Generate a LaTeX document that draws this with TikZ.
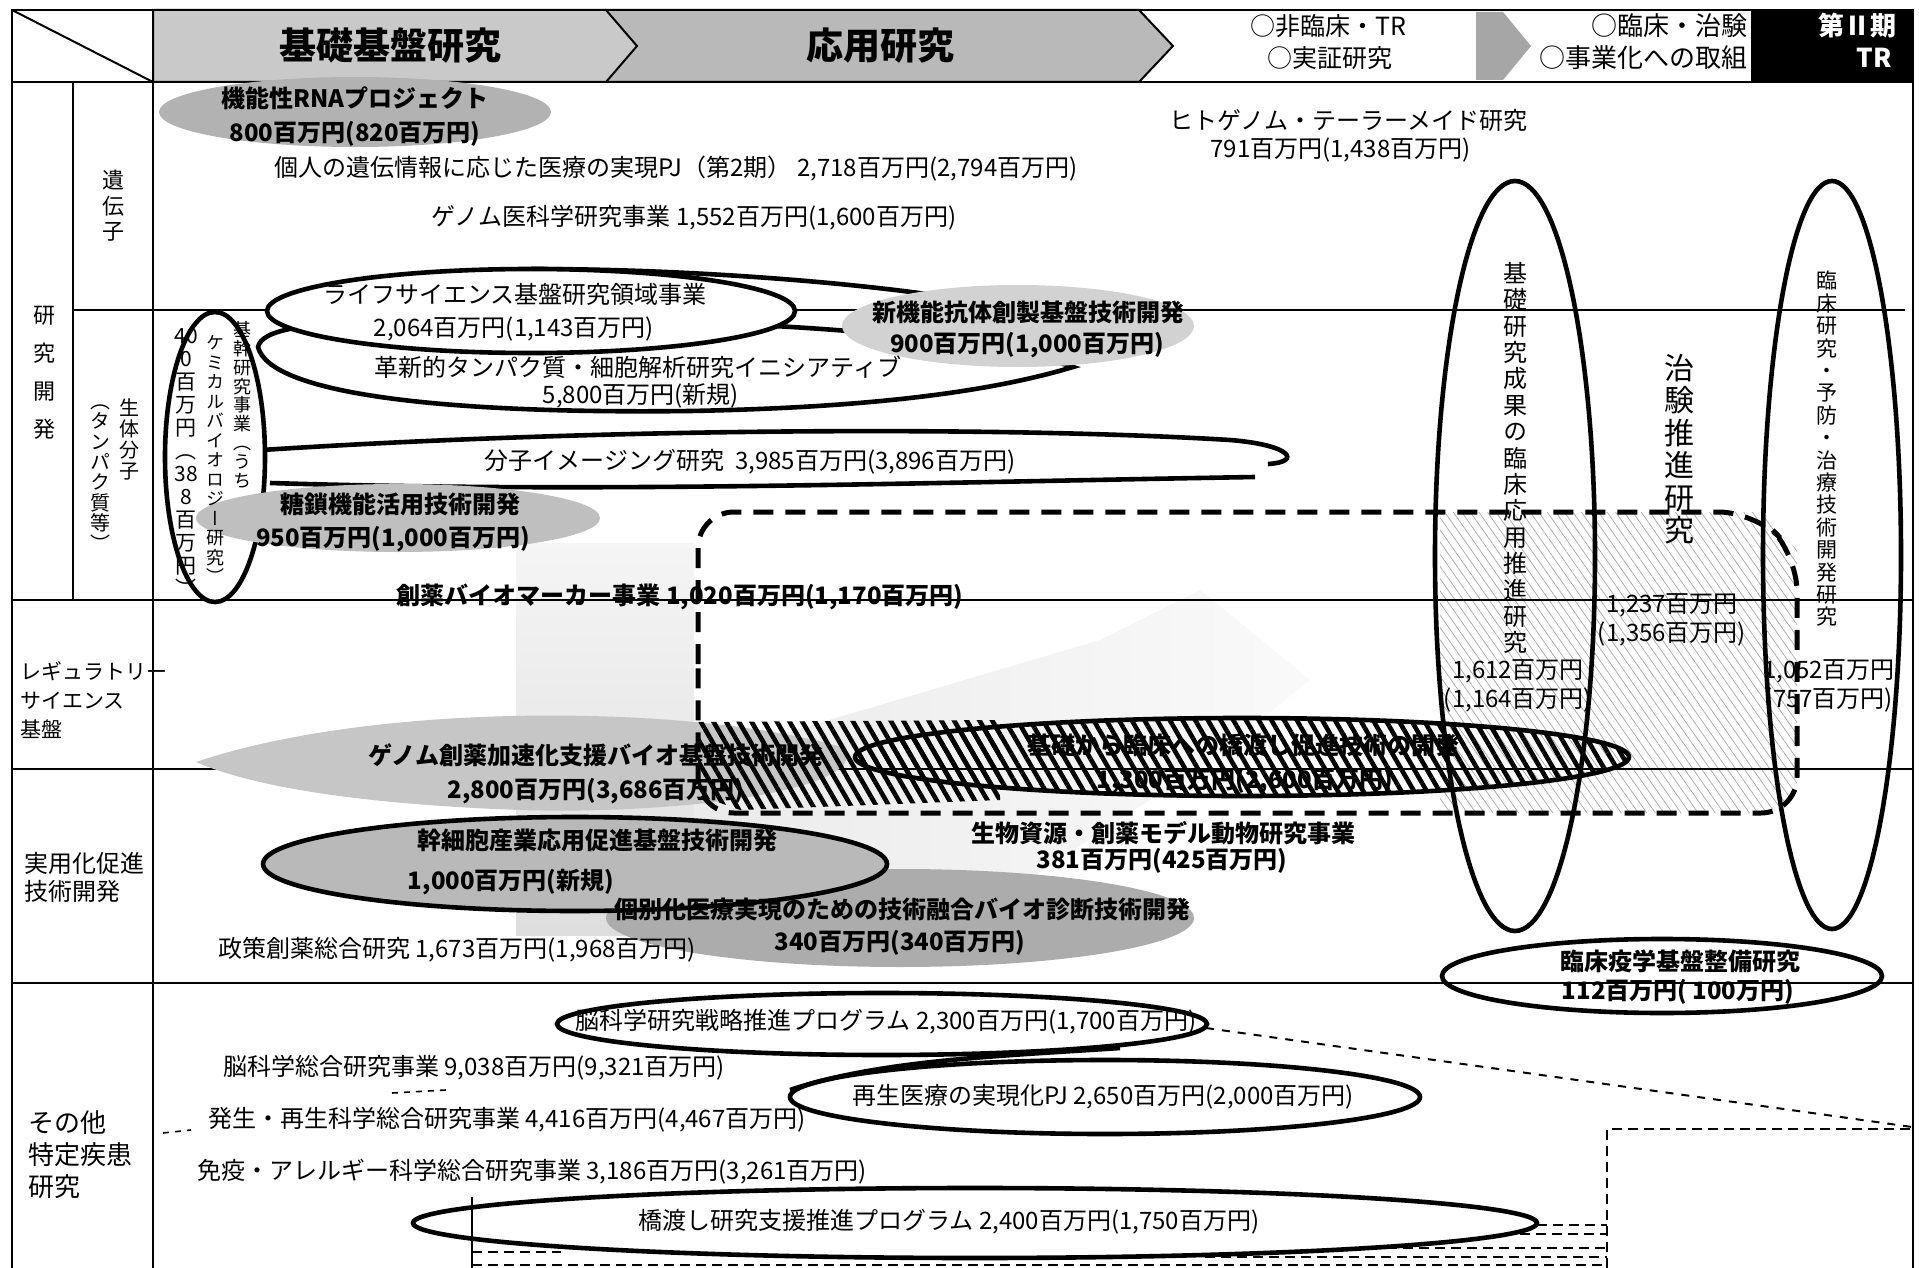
\documentclass[tikz,border=0pt]{standalone}
\usepackage{fontspec}
\setmainfont{Noto Sans CJK JP}
\newfontfamily\vjp{Noto Sans CJK JP}[RawFeature=+vert]
\usetikzlibrary{patterns.meta}
\makeatletter
\newcommand\vstk[2]{\vbox{\offinterlineskip\@tfor\vch:=#2\do{\hbox to 1.2em{\hss\vrule height \dimexpr #1/2 + .38em\relax depth \dimexpr #1/2 - .38em\relax width 0pt\smash{\vch}\hss}}}}
\makeatother
\tikzset{
  t/.style={inner sep=0pt, font=\fontsize{12}{14}\selectfont},
  tb/.style={inner sep=0pt, font=\bfseries\fontsize{12}{14}\selectfont},
  vt/.style={inner sep=0pt},
  gridln/.style={line width=1pt},
  ell/.style={line width=2.3pt},
  bigdash/.style={line width=2.5pt, dash pattern=on 10pt off 6pt},
  thindash/.style={line width=1pt, dash pattern=on 4pt off 4pt},
  dashtwo/.style={line width=1.3pt, dash pattern=on 5pt off 3pt},
  hatch/.style={pattern={Lines[angle=-60,distance=5.5pt,line width=2.3pt]}},
  lighthatch/.style={pattern={Lines[angle=-55,distance=3.5pt,line width=.35pt]}, pattern color=gray!70},
}
\begin{document}
\begin{tikzpicture}[x=0.5pt,y=-0.5pt]
\useasboundingbox (0,0) rectangle (1919,1268);
\fill[white] (0,0) rectangle (1919,1268);

% background stipple (approximated by light grey)
\shade[top color=gray!8, bottom color=gray!26] (516,543) rectangle (694,935);
\shade[left color=gray!16, right color=gray!4] (694,940) -- (694,760) -- (1100,640) -- (1200,590) -- (1310,680) -- (1210,760) -- (930,945) -- cycle;
\fill[lighthatch] (1440,512) -- (1760,512) -- (1797,550) -- (1797,790) -- (1770,813) -- (1440,813) -- cycle;

% header
\filldraw[fill=gray!55, line width=1pt] (606,10) -- (1139,10) -- (1173,46) -- (1139,82) -- (606,82) -- cycle;
\filldraw[fill=gray!42, line width=1pt] (153,10) -- (606,10) -- (637,46) -- (606,82) -- (153,82) -- cycle;
\fill[gray!70] (1476,12) -- (1503,12) -- (1531,46) -- (1503,80) -- (1476,80) -- cycle;
\fill[black] (1751,10) rectangle (1913,82);

% frame and grid
\draw[gridln] (12,1268) -- (12,10) -- (1913,10) -- (1913,1268);
\draw[gridln] (12,82) -- (1913,82);
\draw[gridln] (12,10) -- (153,82);
\draw[gridln] (153,10) -- (153,1268);
\draw[gridln] (73,82) -- (73,600);
\draw[gridln] (73,310) -- (1905,310);
\draw[gridln] (12,600) -- (1913,600);
\draw[gridln] (12,769) -- (1913,769);
\draw[gridln] (12,983) -- (1913,983);

% shapes: gene / biomolecule rows
\fill[gray!60] (355,112) ellipse [x radius=98pt, y radius=17.5pt];
\filldraw[ell, fill=white] (258,347) .. controls (262,330) and (300,322) .. (420,320) .. controls (700,316) and (960,330) .. (1073,367) .. controls (980,395) and (850,408) .. (690,411) .. controls (450,414) and (270,395) .. (258,347) -- cycle;
\draw[ell] (531,269) .. controls (700,269) and (860,284) .. (940,296);
\filldraw[ell, fill=white] (531,311) ellipse [x radius=132pt, y radius=21pt];
\fill[gray!35] (1018,326) ellipse [x radius=88pt, y radius=20.5pt];
\draw[ell] (262,450) .. controls (600,428) and (1000,426) .. (1230,440) .. controls (1292,445) and (1302,462) .. (1268,464);
\draw[ell] (1255,477) .. controls (900,483) and (600,493) .. (270,483);
\filldraw[ell, fill=white] (215,457) ellipse [x radius=25pt, y radius=72.5pt];
\fill[gray!50] (398,518) ellipse [x radius=101pt, y radius=17pt];

% regulatory / practical rows
\fill[gray!45] (196,762) .. controls (380,700) and (700,705) .. (845,748) .. controls (870,790) and (680,815) .. (520,810) .. controls (380,805) and (260,790) .. (196,762) -- cycle;
\fill[hatch] (698,722) -- (1000,720) -- (1000,800) -- (740,810) -- (698,795) -- cycle;
\draw[ell, hatch] (1242,757) ellipse [x radius=193.5pt, y radius=19.5pt];
\fill[gray!65] (900,918) ellipse [x radius=147pt, y radius=24.5pt];
\filldraw[ell, fill=gray!55] (575,864) ellipse [x radius=156pt, y radius=23.5pt];
\draw[ell] (1515,556) ellipse [x radius=40pt, y radius=187.5pt];
\draw[ell] (1832,555) ellipse [x radius=34.5pt, y radius=187pt];
\draw[ell] (1662,976) ellipse [x radius=110pt, y radius=18.5pt];
\draw[bigdash, rounded corners=18pt] (698,700) |- (1755,512) -- (1797,555) |- (698,813) -- cycle;

% other disease rows
\draw[ell] (882,1024) ellipse [x radius=162.5pt, y radius=15.5pt];
\draw[ell] (1120,1048) .. controls (1000,1056) and (880,1060) .. (790,1090);
\draw[ell] (1105,1097) ellipse [x radius=157.5pt, y radius=18.5pt];
\draw[ell] (975,1223) ellipse [x radius=281pt, y radius=17.5pt];
\coordinate (nouR) at (1206,1028);
\coordinate (farR) at (1912,1127);
\draw[thindash] (nouR) -- (farR);
\draw[dashtwo] (1607,1268) -- (1607,1129) -- (1913,1129);
\draw[dashtwo] (1537,1225) -- (1607,1225);
\draw[dashtwo] (1520,1234) -- (1607,1234);
\draw[dashtwo] (1387,1248) -- (1607,1248);
\draw[dashtwo] (1205,1257) -- (1607,1257);
\draw[dashtwo] (472,1265) -- (1607,1265);
\draw[dashtwo] (472,1252) -- (561,1252);
\draw[line width=.6pt] (472,1197) -- (472,1268);
\draw[line width=.8pt, dash pattern=on 3pt off 3pt] (392,1093) -- (446,1090);
\draw[line width=.8pt, dash pattern=on 3pt off 3pt] (163,1133) -- (191,1130);

% header texts
\node[inner sep=0pt, font=\bfseries\fontsize{18.5}{20}\selectfont] (hkiso) at (390,46) {基礎基盤研究};
\node[inner sep=0pt, font=\bfseries\fontsize{18.5}{20}\selectfont] (houyou) at (880,46) {応用研究};
\node[inner sep=0pt, font=\fontsize{12.5}{14}\selectfont] (hhi1) at (1328,26) {○非臨床・TR};
\node[inner sep=0pt, font=\fontsize{12.5}{14}\selectfont] (hhi2) at (1330,58) {○実証研究};
\node[inner sep=0pt, anchor=east, font=\fontsize{13}{14}\selectfont] (hrin1) at (1748,26) {○臨床・治験};
\node[inner sep=0pt, anchor=east, font=\fontsize{13}{14}\selectfont] (hrin2) at (1748,58) {○事業化への取組};
\node[inner sep=0pt, text=white, font=\bfseries\fontsize{13}{14}\selectfont] (hdai) at (1857,26) {第Ⅱ期};
\node[inner sep=0pt, text=white, font=\bfseries\fontsize{13}{14}\selectfont] (htr) at (1874,58) {TR};

% left labels
\node[vt, font=\vjp\fontsize{11}{11}\selectfont] (lken) at (44,372) {\vstk{19pt}{研究開発}};
\node[vt, font=\vjp\fontsize{11}{11}\selectfont] (liden) at (113,206) {\vstk{12.75pt}{遺伝子}};
\node[vt, font=\vjp\fontsize{10}{10}\selectfont] (lsei) at (130,439) {\vstk{10.5pt}{生体分子}};
\node[vt, font=\vjp\fontsize{10}{10}\selectfont] (ltan) at (101,472) {\vstk{10.2pt}{（タンパク質等）}};
\node[inner sep=0pt, anchor=west, align=left, font=\fontsize{10.5}{14.5}\selectfont] (lregu) at (20,700) {レギュラトリー\\サイエンス\\基盤};
\node[inner sep=0pt, anchor=west, align=left, font=\fontsize{12}{14}\selectfont] (ljitsu) at (24,877) {実用化促進\\技術開発};
\node[inner sep=0pt, anchor=west, align=left, font=\fontsize{13}{16}\selectfont] (lsono) at (28,1155) {その他\\特定疾患\\研究};

% gene row texts
\node[tb] (rna1) at (355,98) {機能性RNAプロジェクト};
\node[tb] (rna2) at (355,134) {800百万円(820百万円)};
\node[t] (kojin) at (676,169) {個人の遺伝情報に応じた医療の実現PJ（第2期） 2,718百万円(2,794百万円)};
\node[t] (genome) at (694,218) {ゲノム医科学研究事業 1,552百万円(1,600百万円)};
\node[t, anchor=west] (hito1) at (1169,120) {ヒトゲノム・テーラーメイド研究};
\node[t, anchor=west] (hito2) at (1210,150) {791百万円(1,438百万円)};

% biomolecule row texts
\node[t] (life1) at (515,294) {ライフサイエンス基盤研究領域事業};
\node[t] (life2) at (514,329) {2,064百万円(1,143百万円)};
\node[t] (kaku1) at (638,367) {革新的タンパク質・細胞解析研究イニシアティブ};
\node[t] (kaku2) at (641,396) {5,800百万円(新規)};
\node[tb] (shin1) at (1028,312) {新機能抗体創製基盤技術開発};
\node[tb] (shin2) at (1027,345) {900百万円(1,000百万円)};
\node[t] (bunshi) at (750,462) {分子イメージング研究\ \ 3,985百万円(3,896百万円)};
\node[tb] (tousa1) at (400,504) {糖鎖機能活用技術開発};
\node[tb] (tousa2) at (393,539) {950百万円(1,000百万円)};
\node[vt, font=\vjp\fontsize{9}{9}\selectfont] (kkR) at (242,405) {\vstk{9.4pt}{基幹研究事業（うち}};
\node[vt, font=\vjp\fontsize{9}{9}\selectfont] (kkM) at (215,460) {\vstk{9.75pt}{ケミカルバイオロジー研究）}};
\node[vt, font=\vjp\fontsize{10.5}{10.5}\selectfont] (kkL) at (186,462) {\vstk{11.5pt}{{40}0百万円（{38}8百万円）}};
\node[tb] (souyaku) at (680,597) {創薬バイオマーカー事業 1,020百万円(1,170百万円)};

% regulatory / practical texts
\node[tb] (genso1) at (596,755) {ゲノム創薬加速化支援バイオ基盤技術開発};
\node[tb] (genso2) at (596,791) {2,800百万円(3,686百万円)};
\node[tb] (hashi1) at (1243,745) {基礎から臨床への橋渡し促進技術の開発};
\node[tb] (hashi2) at (1245,781) {1,300百万円(2,600百万円)};
\node[t] (n1a) at (1518,671) {1,612百万円};
\node[t] (n1b) at (1518,700) {(1,164百万円)};
\node[t] (n2a) at (1672,605) {1,237百万円};
\node[t] (n2b) at (1672,634) {(1,356百万円)};
\node[t] (n3a) at (1829,671) {1,052百万円};
\node[t] (n3b) at (1829,700) {(757百万円)};
\node[vt, font=\vjp\fontsize{12}{12}\selectfont] (vkiso) at (1515,458) {\vstk{13.2pt}{基礎研究成果の臨床応用推進研究}};
\node[vt, font=\vjp\fontsize{15}{15}\selectfont] (vchi) at (1679,449) {\vstk{16.2pt}{治験推進研究}};
\node[vt, font=\vjp\fontsize{10.5}{10.5}\selectfont] (vrin) at (1827,449) {\vstk{11.2pt}{臨床研究・予防・治療技術開発研究}};
\node[tb] (seib1) at (1163,833) {生物資源・創薬モデル動物研究事業};
\node[tb] (seib2) at (1162,861) {381百万円(425百万円)};
\node[tb] (kan1) at (597,840) {幹細胞産業応用促進基盤技術開発};
\node[tb] (kan2) at (511,882) {1,000百万円(新規)};
\node[tb] (kobe1) at (902,909) {個別化医療実現のための技術融合バイオ診断技術開発};
\node[tb] (kobe2) at (900,943) {340百万円(340百万円)};
\node[t] (seisaku) at (457,950) {政策創薬総合研究 1,673百万円(1,968百万円)};
\node[tb] (rinek1) at (1680,961) {臨床疫学基盤整備研究};
\node[tb] (rinek2) at (1678,992) {112百万円( 100万円)};

% other disease texts
\node[t] (nou) at (886,1022) {脳科学研究戦略推進プログラム 2,300百万円(1,700百万円)};
\node[t] (nousou) at (474,1068) {脳科学総合研究事業 9,038百万円(9,321百万円)};
\node[t] (saisei) at (1103,1097) {再生医療の実現化PJ 2,650百万円(2,000百万円)};
\node[t] (hassei) at (507,1120) {発生・再生科学総合研究事業 4,416百万円(4,467百万円)};
\node[t] (meneki) at (532,1172) {免疫・アレルギー科学総合研究事業 3,186百万円(3,261百万円)};
\node[t] (hashiken) at (949,1222) {橋渡し研究支援推進プログラム 2,400百万円(1,750百万円)};
\end{tikzpicture}
\end{document}
